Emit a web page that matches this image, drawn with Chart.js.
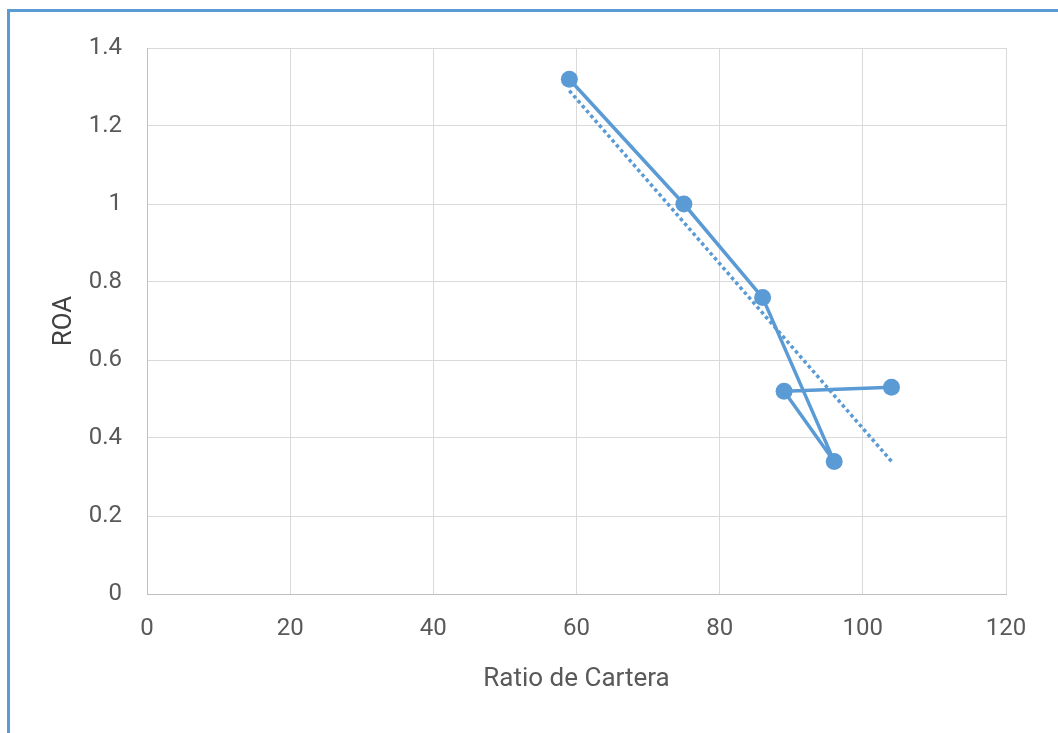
<!DOCTYPE html>
<html>
<head>
<meta charset="utf-8">
<script src="https://cdn.jsdelivr.net/npm/chart.js@4.4.1/dist/chart.umd.min.js"></script>
<style>
  html, body { margin: 0; padding: 0; background: #ffffff; overflow: hidden; }
  #frame { position: absolute; left: 7px; top: 9px; width: 1200px; height: 900px;
           border-left: 3px solid #5b9bd5; border-top: 3px solid #5b9bd5; box-sizing: border-box; }
  #wrap { position: absolute; left: 0; top: 0; width: 1058px; height: 733px; }
</style>
</head>
<body>
<div id="frame"></div>
<div id="wrap"><canvas id="c" width="1058" height="733"></canvas></div>
<script>
// Data
const ratioCartera = [59, 75, 86, 96, 89, 104];
const roa = [1.32, 1.00, 0.76, 0.34, 0.52, 0.53];
const xTicks = [0, 20, 40, 60, 80, 100, 120];
const yTicks = [0, 0.2, 0.4, 0.6, 0.8, 1, 1.2, 1.4];
const xTitle = 'Ratio de Cartera';
const yTitle = 'ROA';

// Linear trendline (least squares) from the data
function trend(xs, ys) {
  const n = xs.length;
  const mx = xs.reduce((a, b) => a + b, 0) / n;
  const my = ys.reduce((a, b) => a + b, 0) / n;
  let sxy = 0, sxx = 0;
  for (let i = 0; i < n; i++) { sxy += (xs[i] - mx) * (ys[i] - my); sxx += (xs[i] - mx) ** 2; }
  const b = sxy / sxx, a = my - b * mx;
  const x0 = Math.min(...xs), x1 = Math.max(...xs);
  return [{ x: x0, y: a + b * x0 }, { x: x1, y: a + b * x1 }];
}

const blue = '#5b9bd5';
const tickFont = { family: 'Roboto', size: 24 };
const titleFont = { family: 'Roboto', size: 26 };

new Chart(document.getElementById('c'), {
  type: 'scatter',
  data: {
    datasets: [
      {
        data: trend(ratioCartera, roa),
        showLine: true,
        borderColor: blue,
        borderWidth: 3.5,
        borderDash: [3.5, 3],
        pointRadius: 0,
        fill: false
      },
      {
        data: ratioCartera.map((x, i) => ({ x: x, y: roa[i] })),
        showLine: true,
        borderColor: blue,
        backgroundColor: blue,
        borderWidth: 3.5,
        borderJoinStyle: 'round',
        borderCapStyle: 'round',
        pointRadius: 8.5,
        pointBackgroundColor: blue,
        pointBorderColor: blue,
        pointBorderWidth: 0,
        fill: false
      }
    ]
  },
  options: {
    responsive: false,
    animation: false,
    devicePixelRatio: 1,
    layout: { padding: { left: 0, top: 48, right: 52, bottom: 0 } },
    plugins: { legend: { display: false }, tooltip: { enabled: false } },
    scales: {
      x: {
        type: 'linear',
        min: 0, max: 120,
        afterBuildTicks: s => { s.ticks = xTicks.map(v => ({ value: v })); },
        afterFit: s => { s.height = 139; },
        grid: { color: '#d9d9d9', lineWidth: 1, drawTicks: false },
        border: { color: '#bfbfbf', width: 1 },
        ticks: { color: '#595959', font: tickFont, padding: 21, callback: v => String(v) },
        title: { display: true, text: xTitle, color: '#595959', font: titleFont, padding: { top: 0, bottom: 38 } }
      },
      y: {
        type: 'linear',
        min: 0, max: 1.4,
        afterBuildTicks: s => { s.ticks = yTicks.map(v => ({ value: v })); },
        afterFit: s => { s.width = 147; },
        grid: { color: '#d9d9d9', lineWidth: 1, drawTicks: false },
        border: { color: '#bfbfbf', width: 1 },
        ticks: { color: '#595959', font: tickFont, padding: 25, callback: v => String(v) },
        title: { display: true, text: yTitle, color: '#404040', font: titleFont, padding: { top: 49, bottom: 0 } }
      }
    }
  }
});
</script>
</body>
</html>
